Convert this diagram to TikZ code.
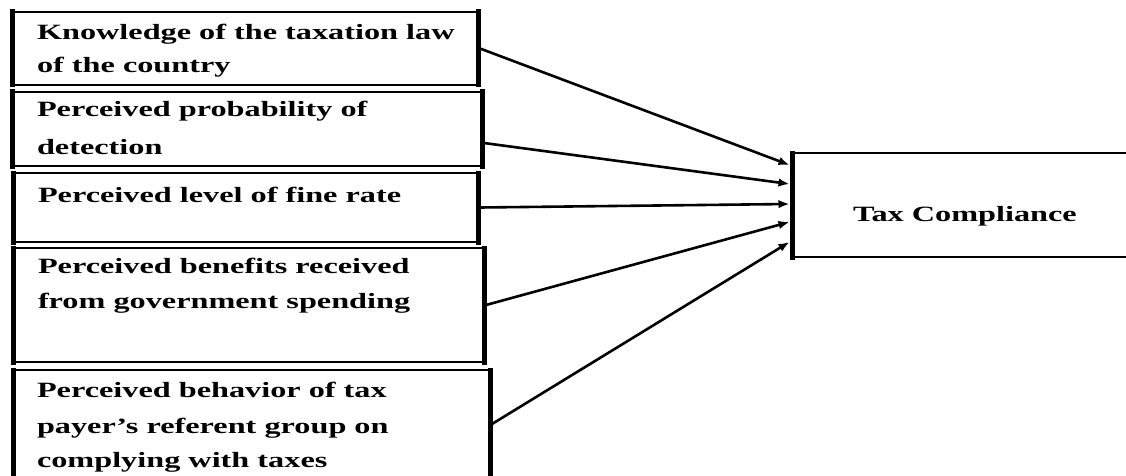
\documentclass[tikz,border=0pt]{standalone}
\usepackage{fontspec}
\setmainfont{Liberation Serif}
\usepackage{graphicx}
\usetikzlibrary{arrows.meta,calc}
\newcommand{\wtxt}[1]{\scalebox{1.48}[1]{\fontsize{21.8}{21.8}\selectfont\bfseries #1}}
\tikzset{
  fbox/.style={draw=black, line width=2.8pt, fill=white, inner sep=0pt, outer sep=0pt, anchor=north west},
  lbl/.style={inner sep=0pt, outer sep=0pt, anchor=base west},
  side/.style={line width=5pt, line cap=rect},
  arr/.style={line width=2.6pt, -{Latex[length=11pt,width=8.5pt]}}
}
\begin{document}
\begin{tikzpicture}[x=1pt,y=-1pt]
\useasboundingbox (0,0) rectangle (1126,476);
\fill[white] (0,0) rectangle (1126,476);
\clip (0,0) rectangle (1126,476);
% boxes
\node[fbox, minimum width=466pt, minimum height=73pt] (b1) at (12,12) {};
\node[fbox, minimum width=470pt, minimum height=74pt] (b2) at (12,92) {};
\node[fbox, minimum width=465pt, minimum height=69pt] (b3) at (13,173) {};
\node[fbox, minimum width=471pt, minimum height=114pt] (b4) at (13,248) {};
\node[fbox, minimum width=477pt, minimum height=108pt] (b5) at (13,370) {};
\node[fbox, minimum width=345pt, minimum height=104pt] (tg) at (792,153) {};
% thick vertical sides
\foreach \b in {b1,b2,b3,b4,b5,tg}{
  \draw[side] (\b.north west) -- (\b.south west);
  \draw[side] (\b.north east) -- (\b.south east);
}
% texts
\node[lbl] (t1a) at (37,40) {\wtxt{Knowledge of the taxation law}};
\node[lbl] (t1b) at (37,73) {\wtxt{of the country}};
\node[lbl] (t2a) at (37,117) {\wtxt{Perceived probability of}};
\node[lbl] (t2b) at (37,154) {\wtxt{detection}};
\node[lbl] (t3a) at (38,202) {\wtxt{Perceived level of fine rate}};
\node[lbl] (t4a) at (38,273) {\wtxt{Perceived benefits received}};
\node[lbl] (t4b) at (38,308) {\wtxt{from government spending}};
\node[lbl] (t5a) at (37,397) {\wtxt{Perceived behavior of tax}};
\node[lbl] (t5b) at (37,433) {\wtxt{payer’s referent group on}};
\node[lbl] (t5c) at (37,467) {\wtxt{complying with taxes}};
\node[lbl] (tt) at (853,221) {\wtxt{Tax Compliance}};
% arrow end points on target
\coordinate (in1) at ($(tg.north west)+(-2.5,12)$);
\coordinate (in2) at ($(tg.north west)+(-2.5,31)$);
\coordinate (in3) at ($(tg.north west)+(-2.5,51)$);
\coordinate (in4) at ($(tg.north west)+(-2.5,69)$);
\coordinate (in5) at ($(tg.north west)+(-2.5,89)$);
% arrows
\draw[arr] ($(b1.east)+(2,0)$) -- (in1);
\draw[arr] ($(b2.east)+(2,14)$) -- (in2);
\draw[arr] ($(b3.east)+(2,0)$) -- (in3);
\draw[arr] ($(b4.east)+(2,0)$) -- (in4);
\draw[arr] ($(b5.east)+(2,0)$) -- (in5);
\end{tikzpicture}
\end{document}
